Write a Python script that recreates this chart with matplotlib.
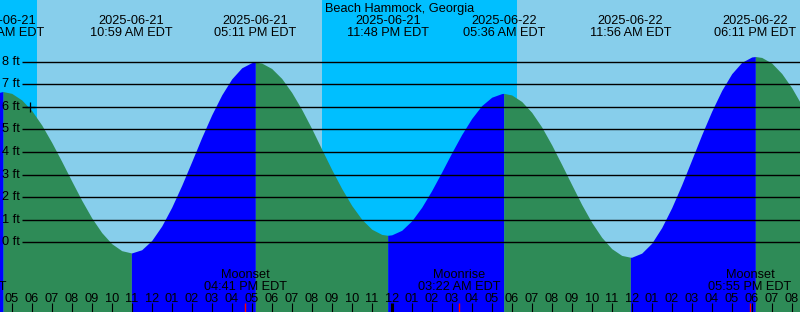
import matplotlib
matplotlib.use("Agg")
import matplotlib.pyplot as plt

# readings every half hour, hours counted from 2025-06-21 05:00 EDT
curve_t = [i * 0.5 for i in range(-2, 81)]
curve_ft = [6.55, 6.66, 6.59, 6.30, 5.83, 5.19, 4.42, 3.58, 2.71, 1.86,
            1.08, 0.43, -0.06, -0.37, -0.47, -0.33, 0.08, 0.72, 1.55, 2.52,
            3.57, 4.64, 5.64, 6.52, 7.23, 7.72, 7.95, 7.93, 7.69, 7.25,
            6.63, 5.88, 5.03, 4.12, 3.22, 2.38, 1.63, 1.02, 0.58, 0.35,
            0.33, 0.53, 0.95, 1.55, 2.29, 3.11, 3.96, 4.77, 5.48, 6.05,
            6.42, 6.58, 6.52, 6.23, 5.75, 5.10, 4.31, 3.44, 2.55, 1.67,
            0.88, 0.22, -0.28, -0.58, -0.66, -0.48, -0.04, 0.65, 1.53, 2.55,
            3.65, 4.76, 5.80, 6.72, 7.46, 7.96, 8.20, 8.18, 7.93, 7.47,
            6.84, 6.07, 5.19]

# high / low tides
ext_t = [-0.433, 5.983, 12.183, 18.8, 24.6, 30.933, 37.183]
ext_ft = [6.67, -0.47, 7.97, 0.31, 6.59, -0.66, 8.22]
ext_date = ["2025-06-21", "2025-06-21", "2025-06-21", "2025-06-21",
            "2025-06-22", "2025-06-22", "2025-06-22"]
ext_time = ["04:34 AM EDT", "10:59 AM EDT", "05:11 PM EDT", "11:48 PM EDT",
            "05:36 AM EDT", "11:56 AM EDT", "06:11 PM EDT"]

# moon events
moon_t = [-2.3, 11.683, 22.367, 36.917]
moon_name = ["Moonrise", "Moonset", "Moonrise", "Moonset"]
moon_time = ["02:42 AM EDT", "04:41 PM EDT", "03:22 AM EDT", "05:55 PM EDT"]

# night spans (sunset -> sunrise)
night = [(-1.0, 1.25), (15.515, 25.25)]

now_t, now_ft = 0.93, 5.97

W, H = 800, 312
t0 = -11.7 / 20
t1 = (W - 11.7) / 20

fig = plt.figure(figsize=(W / 100, H / 100), dpi=100)
ax = fig.add_axes([0, 0, 1, 1])
ax.set_xlim(t0, t1)
ax.set_ylim(-(H - 242.3) / 22.6, 242.3 / 22.6)
ax.axis("off")
fig.patch.set_facecolor("#87CEEB")
ax.axvspan(t0, t1, color="#87CEEB", zorder=0, lw=0)
for a, b in night:
    ax.axvspan(a, b, color="#00BFFF", zorder=0.5, lw=0)

# merge the readings with the extremes, then fill each rise / fall
pts = sorted(zip(curve_t + ext_t, curve_ft + ext_ft))
bottom = ax.get_ylim()[0]
bounds = [t0 - 1] + ext_t + [t1 + 1]
for i in range(len(bounds) - 1):
    a, b = bounds[i], bounds[i + 1]
    seg = [(t, y) for t, y in pts if a <= t <= b]
    st = [s[0] for s in seg]
    sy = [s[1] for s in seg]
    rising = sy[-1] > sy[0]
    ax.fill_between(st, sy, bottom, color="#0000FF" if rising else "#2E8B57",
                    lw=0, zorder=1)

ytr = ax.get_yaxis_transform()
xtr = ax.get_xaxis_transform()
ax.hlines(range(0, 9), 22 / W, 1, transform=ytr, color="black", lw=1, zorder=2)
fnt = dict(family="Liberation Sans", fontsize=9.2, color="black", zorder=3)
for f in range(0, 9):
    ax.text(2 / W, f, "%d ft" % f, transform=ytr, ha="left", va="center", **fnt)

ax.plot([now_t], [now_ft], marker="+", color="black", ms=6.5, mew=0.9, zorder=3)


def yf(px):
    return 1 - px / H


ax.text(0.5, yf(12.3), "Beach Hammock, Georgia", transform=ax.transAxes,
        ha="center", va="baseline", **fnt)
for t, d, s in zip(ext_t, ext_date, ext_time):
    ax.text(t, yf(24), d, transform=xtr, ha="center", va="baseline", **fnt)
    ax.text(t, yf(36), s, transform=xtr, ha="center", va="baseline", **fnt)

for t, n, s in zip(moon_t, moon_name, moon_time):
    ax.text(t, yf(278.3), n, transform=xtr, ha="center", va="baseline", **fnt)
    ax.text(t, yf(290), s, transform=xtr, ha="center", va="baseline", **fnt)
    ax.vlines(t, 0, yf(303), transform=xtr, color="red", lw=1, zorder=3)

for k in range(-1, 41):
    hr = (5 + k) % 24
    lab = "%02d" % (hr % 12 if hr % 12 else 12)
    ax.text(k, yf(301.5), lab, transform=xtr, ha="center", va="baseline", **fnt)
    ax.vlines(k, 0, yf(303), transform=xtr, color="black",
              lw=2.2 if hr == 0 else 0.8, zorder=3)

fig.savefig("out.png", dpi=100, facecolor=fig.get_facecolor())
